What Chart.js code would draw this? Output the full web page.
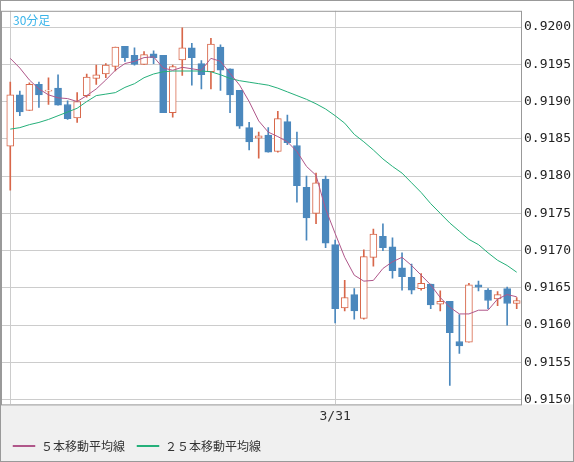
<!DOCTYPE html>
<html>
<head>
<meta charset="utf-8">
<script src="https://cdn.jsdelivr.net/npm/chart.js@4"></script>
<style>
  html, body { margin: 0; padding: 0; background: #f0f0f0; }
  #wrap { width: 574px; height: 462px; }
</style>
</head>
<body>
<div id="wrap"><canvas id="chart"></canvas></div>
<script>
const xLabels = [];
xLabels[34] = "3/31";

const opens  = [0.91840,0.91909,0.91888,0.91923,0.91914,0.91918,0.91896,0.91878,0.91908,0.91931,
                0.91937,0.91947,0.91974,0.91962,0.91950,0.91964,0.91962,0.91885,0.91956,0.91972,
                0.91951,0.91940,0.91973,0.91944,0.91915,0.91865,0.91851,0.91855,0.91833,0.91873,
                0.91841,0.91785,0.91750,0.91796,0.91708,0.91623,0.91641,0.91609,0.91691,0.91719,
                0.91705,0.91677,0.91664,0.91649,0.91655,0.91628,0.91632,0.91578,0.91577,0.91654,
                0.91647,0.91635,0.91649,0.91629];
const highs  = [0.91926,0.91914,0.91925,0.91926,0.91932,0.91936,0.91901,0.91912,0.91937,0.91949,
                0.91951,0.91973,0.91974,0.91972,0.91967,0.91968,0.91962,0.91949,0.91999,0.91978,
                0.91955,0.91985,0.91976,0.91944,0.91915,0.91872,0.91859,0.91865,0.91887,0.91882,
                0.91859,0.91800,0.91804,0.91800,0.91714,0.91660,0.91649,0.91701,0.91729,0.91736,
                0.91717,0.91697,0.91682,0.91669,0.91655,0.91646,0.91632,0.91614,0.91656,0.91659,
                0.91649,0.91645,0.91651,0.91637];
const lows   = [0.91781,0.91881,0.91888,0.91892,0.91896,0.91895,0.91876,0.91872,0.91906,0.91923,
                0.91932,0.91941,0.91954,0.91949,0.91950,0.91951,0.91885,0.91879,0.91935,0.91922,
                0.91917,0.91917,0.91915,0.91885,0.91864,0.91835,0.91824,0.91832,0.91832,0.91842,
                0.91765,0.91714,0.91736,0.91704,0.91603,0.91619,0.91608,0.91608,0.91679,0.91700,
                0.91663,0.91647,0.91642,0.91647,0.91622,0.91619,0.91519,0.91562,0.91577,0.91646,
                0.91622,0.91626,0.91600,0.91622];
const closes = [0.91909,0.91886,0.91923,0.91909,0.91915,0.91895,0.91877,0.91900,0.91933,0.91936,
                0.91949,0.91973,0.91959,0.91950,0.91963,0.91959,0.91885,0.91947,0.91972,0.91959,
                0.91936,0.91977,0.91942,0.91909,0.91867,0.91846,0.91854,0.91832,0.91877,0.91845,
                0.91787,0.91744,0.91791,0.91710,0.91622,0.91637,0.91619,0.91692,0.91722,0.91704,
                0.91673,0.91665,0.91647,0.91656,0.91627,0.91632,0.91590,0.91572,0.91654,0.91651,
                0.91633,0.91641,0.91629,0.91633];
const ma5  = [0.91958,0.91945,0.91929,0.91917,0.91909,0.91905,0.91904,0.91900,0.91908,0.91917,
              0.91929,0.91942,0.91951,0.91954,0.91959,0.91960,0.91945,0.91942,0.91946,0.91944,
              0.91942,0.91958,0.91954,0.91938,0.91922,0.91900,0.91874,0.91859,0.91853,0.91846,
              0.91833,0.91813,0.91801,0.91756,0.91723,0.91691,0.91667,0.91659,0.91660,0.91676,
              0.91685,0.91691,0.91680,0.91667,0.91654,0.91637,0.91624,0.91615,0.91615,0.91620,
              0.91620,0.91635,0.91641,0.91638];
const ma25 = [0.91863,0.91865,0.91869,0.91872,0.91876,0.91881,0.91886,0.91891,0.91900,0.91908,
              0.91910,0.91912,0.91919,0.91924,0.91932,0.91937,0.91940,0.91941,0.91941,0.91941,
              0.91941,0.91940,0.91936,0.91931,0.91928,0.91926,0.91924,0.91922,0.91918,0.91913,
              0.91908,0.91903,0.91897,0.91890,0.91881,0.91871,0.91856,0.91846,0.91835,0.91823,
              0.91813,0.91804,0.91791,0.91778,0.91763,0.91750,0.91737,0.91726,0.91715,0.91708,
              0.91697,0.91687,0.91680,0.91671];
const yTicks = [0.9150,0.9155,0.9160,0.9165,0.9170,0.9175,0.9180,0.9185,0.9190,0.9195,0.9200];

const UP = "#d8674a";
const DOWN = "#4b88bd";

const wicks = [], bodies = [], colors = [], fills = [];
for (let i = 0; i < opens.length; i++) {
    let up = closes[i] >= opens[i];
    wicks.push({ x: i, y: [lows[i], highs[i]] });
    bodies.push({ x: i, y: [opens[i], closes[i]] });
    colors.push(up ? UP : DOWN);
    fills.push(up ? "#ffffff" : DOWN);
}
const ma5Data = ma5.map((v, i) => ({ x: i, y: v }));
const ma25Data = ma25.map((v, i) => ({ x: i, y: v }));

const frame = {
    id: "frame",
    beforeDraw(chart) {
        const ctx = chart.ctx, a = chart.chartArea;
        ctx.save();
        ctx.fillStyle = "#f0f0f0";
        ctx.fillRect(0, 0, chart.width, chart.height);
        ctx.fillStyle = "#ffffff";
        ctx.fillRect(0, 0, chart.width, a.bottom);
        ctx.restore();
    },
    afterDraw(chart) {
        const ctx = chart.ctx, a = chart.chartArea;
        ctx.save();
        ctx.strokeStyle = "#999999";
        ctx.lineWidth = 1;
        ctx.strokeRect(a.left + 0.5, a.top + 0.5, a.right - a.left, a.bottom - a.top);
        ctx.strokeRect(0.5, 0.5, chart.width - 1, chart.height - 1);
        ctx.fillStyle = "#3ab4ea";
        ctx.font = "12px 'Noto Sans CJK JP'";
        ctx.textBaseline = "middle";
        ctx.fillText("30分足", a.left + 12, a.top + 10);
        ctx.restore();
    }
};

new Chart(document.getElementById("chart"), {
    type: "bar",
    data: {
        datasets: [
            { label: "wick", data: wicks, backgroundColor: colors, barThickness: 1, grouped: false, order: 3 },
            { label: "body", data: bodies, backgroundColor: fills, borderColor: colors, borderWidth: 1,
              borderSkipped: false, barThickness: 7, minBarLength: 1, grouped: false, order: 2 },
            { type: "line", label: "５本移動平均線", data: ma5Data, borderColor: "#b0578a",
              backgroundColor: "#b0578a", borderWidth: 1, pointRadius: 0, order: 1 },
            { type: "line", label: "２５本移動平均線", data: ma25Data, borderColor: "#25b07a",
              backgroundColor: "#25b07a", borderWidth: 1, pointRadius: 0, order: 1 }
        ]
    },
    options: {
        responsive: true,
        maintainAspectRatio: false,
        animation: false,
        layout: { padding: { top: 1, left: 1, right: 1, bottom: 0 } },
        scales: {
            x: {
                type: "linear",
                offset: false,
                min: -0.97,
                max: 53.45,
                afterBuildTicks: s => { s.ticks = [{ value: 0 }, { value: 34 }]; },
                ticks: {
                    callback: v => xLabels[v] || "",
                    color: "#333",
                    font: { family: "DejaVu Sans Mono", size: 13 },
                    maxRotation: 0,
                    autoSkip: false,
                    padding: 4
                },
                grid: { color: "#cccccc", drawTicks: false, offset: false },
                border: { display: false }
            },
            y: {
                position: "right",
                min: 0.914936,
                max: 0.920218,
                afterBuildTicks: s => { s.ticks = yTicks.map(v => ({ value: v })); },
                afterFit: s => { s.width = 52; },
                ticks: {
                    callback: v => v.toFixed(4),
                    color: "#222",
                    font: { family: "DejaVu Sans Mono", size: 13 },
                    padding: 3
                },
                grid: { color: "#cccccc", drawTicks: false },
                border: { display: false }
            }
        },
        plugins: {
            legend: {
                position: "bottom",
                align: "start",
                labels: {
                    filter: item => item.datasetIndex >= 2,
                    boxWidth: 22,
                    boxHeight: 1,
                    color: "#333",
                    font: { family: "Noto Sans CJK JP", size: 12 },
                    padding: 12
                }
            },
            tooltip: { enabled: false }
        }
    },
    plugins: [frame]
});
</script>
</body>
</html>
